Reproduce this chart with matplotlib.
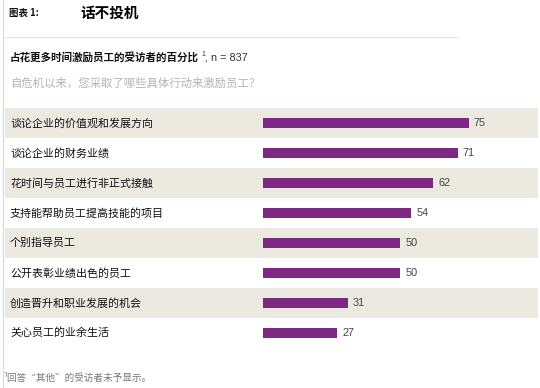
import matplotlib
matplotlib.use("Agg")
import matplotlib.pyplot as plt
from matplotlib.transforms import blended_transform_factory

plt.rcParams['font.family'] = ['Noto Sans CJK SC', 'DejaVu Sans']

categories = ["谈论企业的价值观和发展方向", "谈论企业的财务业绩", "花时间与员工进行非正式接触",
              "支持能帮助员工提高技能的项目", "个别指导员工", "公开表彰业绩出色的员工",
              "创造晋升和职业发展的机会", "关心员工的业余生活"]
values = [75, 71, 62, 54, 50, 50, 31, 27]

W, H = 540, 388
fig = plt.figure(figsize=(W/100, H/100), dpi=100)
fig.patch.set_facecolor('white')

def fx(px): return px / W
def fy(py): return 1 - py / H

# left border line and header rule
fig.add_artist(plt.Line2D([fx(2.5), fx(2.5)], [0, 1], color='#D8D8D8', lw=0.8))
fig.add_artist(plt.Line2D([fx(3), fx(458)], [fy(37), fy(37)], color='#E6E6E6', lw=0.8))

fig.text(fx(9), fy(12.5), "图表 1:", fontsize=6.8, fontweight='bold', va='center', color='#111111')
fig.text(fx(80), fy(13), "话不投机", fontsize=10.5, fontweight='bold', va='center', color='#000000')
fig.text(fx(10), fy(58), "占花更多时间激励员工的受访者的百分比", fontsize=7.6, fontweight='bold',
         va='center', color='#111111')
fig.text(fx(201), fy(55), "1", fontsize=5, va='center', color='#333333', family='Liberation Sans')
fig.text(fx(205), fy(58), ", n = 837", fontsize=7.8, va='center', color='#333333', family='Liberation Sans')
fig.text(fx(10), fy(83), "自危机以来，您采取了哪些具体行动来激励员工？", fontsize=8.2,
         va='center', color='#B4B4B4')
fig.text(fx(3), fy(378), "¹回答“其他”的受访者未予显示。", fontsize=6.9, va='center', color='#777777',
         family=['Noto Sans CJK SC', 'DejaVu Sans'])

left_px, right_px, top_px, bot_px = 5, 538, 108, 348
ax = fig.add_axes([fx(left_px), fy(bot_px), (right_px-left_px)/W, (bot_px-top_px)/H])
ppu = (469 - 263) / 75.0
ax.set_xlim(-(263 - left_px)/ppu, (right_px - 263)/ppu)
n = len(categories)
ax.set_ylim(n - 0.5, -0.5)
ax.axis('off')

for i in range(n):
    if i % 2 == 0:
        ax.axhspan(i - 0.5, i + 0.5, color='#ECE9E1', lw=0, zorder=0)

ax.barh(range(n), values, height=0.34, color='#7D2882', zorder=2)
trans = blended_transform_factory(ax.transAxes, ax.transData)
for i, (c, v) in enumerate(zip(categories, values)):
    ax.text((10 - left_px)/(right_px-left_px), i, c, transform=trans, fontsize=7.9,
            fontweight='medium', va='center', ha='left', color='#111111')
    ax.text(v + 1.8, i, str(v), fontsize=7.8, va='center', ha='left', color='#444444',
            family='Liberation Sans')

fig.savefig("out.png", dpi=100, facecolor='white')
